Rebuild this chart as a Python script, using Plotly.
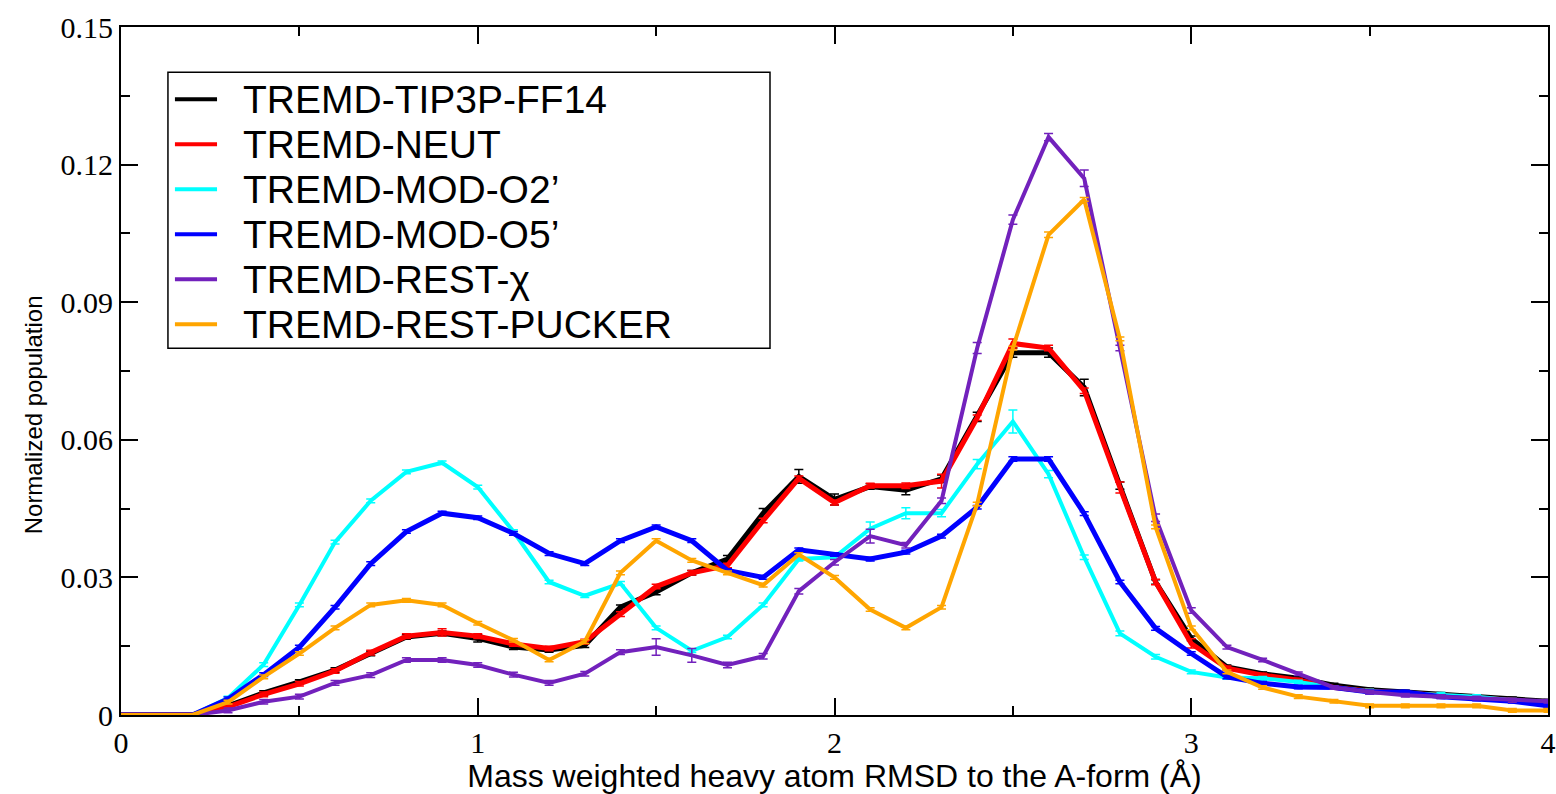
import plotly.graph_objects as go

rmsd = [round(0.1 * i, 1) for i in range(41)]

tip3p_ff14 = [0, 0, 0, 0.0020, 0.0048, 0.0072, 0.0098, 0.0134, 0.0170, 0.0178,
              0.0167, 0.0148, 0.0142, 0.0152, 0.0235, 0.0268, 0.0310, 0.0340, 0.0440, 0.0520,
              0.0470, 0.0498, 0.0490, 0.0515, 0.0650, 0.0790, 0.0790, 0.0714, 0.0500, 0.0290,
              0.0167, 0.0105, 0.0090, 0.0080, 0.0065, 0.0055, 0.0050, 0.0045, 0.0040, 0.0035, 0.0030]
neut = [0, 0, 0, 0.0018, 0.0045, 0.0068, 0.0096, 0.0136, 0.0172, 0.0180,
        0.0172, 0.0155, 0.0145, 0.0160, 0.0220, 0.0280, 0.0310, 0.0326, 0.0424, 0.0516,
        0.0463, 0.0500, 0.0500, 0.0510, 0.0648, 0.0810, 0.0800, 0.0707, 0.0496, 0.0290,
        0.0156, 0.0102, 0.0087, 0.0076, 0.0060, 0.0052, 0.0048, 0.0043, 0.0038, 0.0032, 0.0025]
mod_o2 = [0, 0, 0, 0.0037, 0.0110, 0.0240, 0.0377, 0.0467, 0.0530, 0.0550,
          0.0497, 0.0400, 0.0290, 0.0260, 0.0287, 0.0190, 0.0140, 0.0170, 0.0240, 0.0340,
          0.0344, 0.0406, 0.0440, 0.0440, 0.0547, 0.0640, 0.0525, 0.0344, 0.0178, 0.0127,
          0.0094, 0.0082, 0.0080, 0.0072, 0.0060, 0.0052, 0.0048, 0.0045, 0.0040, 0.0032, 0.0025]
mod_o5 = [0, 0, 0, 0.0035, 0.0088, 0.0148, 0.0235, 0.0330, 0.0400, 0.0440,
          0.0430, 0.0396, 0.0352, 0.0330, 0.0380, 0.0410, 0.0380, 0.0315, 0.0300, 0.0360,
          0.0350, 0.0340, 0.0355, 0.0390, 0.0453, 0.0558, 0.0558, 0.0439, 0.0290, 0.0189,
          0.0134, 0.0083, 0.0069, 0.0061, 0.0060, 0.0050, 0.0050, 0.0040, 0.0035, 0.0030, 0.0020]
rest_chi = [0, 0, 0, 0.0010, 0.0029, 0.0040, 0.0070, 0.0087, 0.0120, 0.0120,
            0.0109, 0.0088, 0.0070, 0.0090, 0.0137, 0.0148, 0.0130, 0.0109, 0.0128, 0.0270,
            0.0333, 0.0390, 0.0370, 0.0467, 0.0800, 0.1080, 0.1260, 0.1170, 0.0800, 0.0430,
            0.0228, 0.0148, 0.0120, 0.0090, 0.0060, 0.0050, 0.0043, 0.0040, 0.0037, 0.0032, 0.0030]
rest_pucker = [0, 0, 0, 0.0028, 0.0083, 0.0134, 0.0190, 0.0240, 0.0250, 0.0240,
               0.0200, 0.0163, 0.0120, 0.0160, 0.0310, 0.0380, 0.0337, 0.0310, 0.0283, 0.0350,
               0.0300, 0.0230, 0.0190, 0.0235, 0.0460, 0.0800, 0.1047, 0.1124, 0.0820, 0.0410,
               0.0190, 0.0094, 0.0060, 0.0040, 0.0030, 0.0020, 0.0020, 0.0020, 0.0020, 0.0010, 0.0010]

err_tip3p = [0, 0, 0] + [0.0005] * 7 + [0.0008, 0.0005, 0.0005, 0.0005, 0.0005, 0.0006, 0.0005, 0.0008,
             0.0010, 0.0015, 0.0012, 0.0006, 0.0010, 0.0008, 0.0010, 0.0010, 0.0010, 0.0018,
             0.0008, 0.0005, 0.0005] + [0.0004] * 10
err_neut = [0, 0, 0] + [0.0005] * 6 + [0.0008] + [0.0005] * 12 + [0.0006, 0.0015, 0.0006,
            0.0010, 0.0006, 0.0006, 0.0012, 0.0006, 0.0010, 0.0005] + [0.0004] * 10
err_o2 = [0, 0, 0] + [0.0004] * 18 + [0.0015, 0.0012, 0.0008, 0.0010, 0.0025, 0.0008,
          0.0005, 0.0005, 0.0005] + [0.0004] * 11
err_o5 = [0, 0, 0] + [0.0004] * 22 + [0.0005, 0.0005] + [0.0004] * 14
err_chi = [0, 0, 0] + [0.0005] * 12 + [0.0018, 0.0015, 0.0006, 0.0006, 0.0006, 0.0006,
           0.0015, 0.0006, 0.0006, 0.0012, 0.0010, 0.0008, 0.0018, 0.0006, 0.0008,
           0.0006] + [0.0004] * 10
err_pucker = [0, 0, 0] + [0.0004] * 23 + [0.0006] + [0.0004] * 14

series = [
    ("TREMD-TIP3P-FF14", tip3p_ff14, err_tip3p, "#000000", 5),
    ("TREMD-NEUT", neut, err_neut, "#ff0000", 5),
    ("TREMD-MOD-O2\u2019", mod_o2, err_o2, "#00ffff", 4),
    ("TREMD-MOD-O5\u2019", mod_o5, err_o5, "#0000ff", 5),
    ("TREMD-REST-\u03c7", rest_chi, err_chi, "#7221bc", 4),
    ("TREMD-REST-PUCKER", rest_pucker, err_pucker, "#ffa500", 4),
]

fig = go.Figure()
for name, vals, errs, color, width in series:
    fig.add_trace(go.Scatter(
        x=rmsd, y=vals, name=name, mode="lines",
        line=dict(color=color, width=width),
        error_y=dict(type="data", array=errs, visible=True, color=color,
                     thickness=1.5, width=4.5),
        showlegend=False,
    ))

# Legend drawn as a boxed list (xmgrace style)
lx0, lx1, ly0, ly1 = 0.0329, 0.4548, 0.5332, 0.9342
fig.add_shape(type="rect", xref="paper", yref="paper", x0=lx0, x1=lx1, y0=ly0, y1=ly1,
              line=dict(color="black", width=1.5), fillcolor="white", layer="above")
row0, rowstep = 0.8950, 0.06538
for i, (name, vals, errs, color, width) in enumerate(series):
    yy = row0 - rowstep * i
    fig.add_shape(type="line", xref="paper", yref="paper", x0=0.0378, x1=0.0673, y0=yy, y1=yy,
                  line=dict(color=color, width=4), layer="above")
    fig.add_annotation(xref="paper", yref="paper", x=0.0848, y=yy, xanchor="left",
                       yanchor="middle", valign="middle", borderpad=0,
                       text=name, showarrow=False,
                       font=dict(family="Liberation Sans, Arial, sans-serif", size=39, color="black"))

# y-axis title
fig.add_annotation(xref="paper", yref="paper", x=-0.0617, y=0.437, xanchor="center",
                   yanchor="middle", textangle=-90, text="Normalized population", showarrow=False,
                   font=dict(family="Liberation Sans, Arial, sans-serif", size=24, color="black"))

tickfont = dict(family="Liberation Serif, Times New Roman, serif", size=30, color="black")
fig.update_xaxes(range=[0, 4], dtick=1, tick0=0, ticks="inside", ticklen=17, tickwidth=1.5,
                 tickcolor="black", showline=True, linecolor="black", linewidth=2, mirror="ticks",
                 showgrid=False, zeroline=False, tickfont=tickfont,
                 minor=dict(dtick=0.5, ticks="inside", ticklen=9, tickwidth=1.5, tickcolor="black",
                            showgrid=False),
                 title=dict(text="Mass weighted heavy atom RMSD to the A-form (\u00c5)", standoff=8,
                            font=dict(family="Liberation Sans, Arial, sans-serif", size=32,
                                      color="black")))
fig.update_yaxes(range=[0, 0.15], dtick=0.03, tick0=0, ticks="inside", ticklen=17, tickwidth=1.5,
                 tickcolor="black", showline=True, linecolor="black", linewidth=2, mirror="ticks",
                 showgrid=False, zeroline=False, tickfont=tickfont,
                 minor=dict(dtick=0.015, ticks="inside", ticklen=9, tickwidth=1.5, tickcolor="black",
                            showgrid=False))

fig.update_layout(width=1556, height=794, paper_bgcolor="white", plot_bgcolor="white",
                  margin=dict(l=121, r=8, t=27, b=79, autoexpand=False), showlegend=False)

fig.write_html("out.html")
